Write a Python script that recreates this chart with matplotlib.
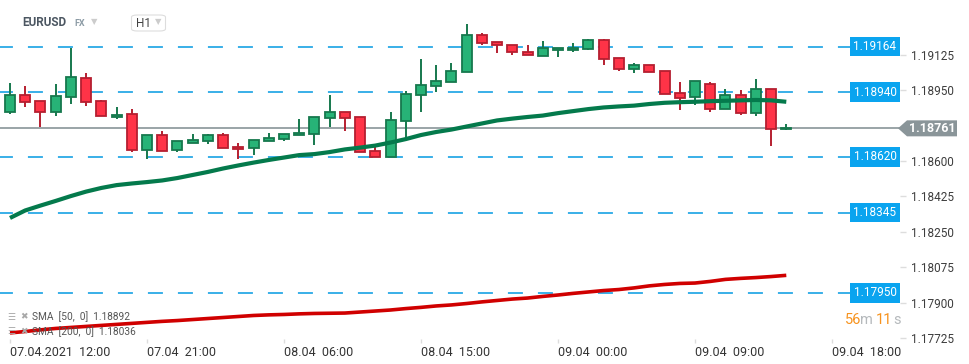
import numpy as np
import matplotlib
matplotlib.use("Agg")
import matplotlib.pyplot as plt
from matplotlib.patches import Polygon, FancyBboxPatch
from matplotlib.transforms import IdentityTransform

plt.rcParams['font.family'] = ['Roboto', 'DejaVu Sans']
plt.rcParams['lines.scale_dashes'] = False

# EURUSD H1 candles, 07.04 12:00 -> 09.04 15:00
opens = [1.18840, 1.18925, 1.18894, 1.18843, 1.18914, 1.19008, 1.18894, 1.18815, 1.18830, 1.18653,
         1.18727, 1.18653, 1.18687, 1.18697, 1.18727, 1.18667, 1.18662, 1.18697, 1.18707, 1.18727,
         1.18731, 1.18810, 1.18840, 1.18815, 1.18648, 1.18618, 1.18796, 1.18924, 1.18968, 1.18988,
         1.19037, 1.19220, 1.19185, 1.19170, 1.19136, 1.19116, 1.19146, 1.19146, 1.19151, 1.19195,
         1.19106, 1.19052, 1.19072, 1.19042, 1.18934, 1.18914, 1.18978, 1.18855, 1.18924, 1.18835,
         1.18953, 1.18756]
closes = [1.18925, 1.18889, 1.18843, 1.18919, 1.19012, 1.18889, 1.18820, 1.18825, 1.18653, 1.18727,
          1.18648, 1.18697, 1.18702, 1.18727, 1.18662, 1.18657, 1.18702, 1.18712, 1.18731, 1.18738,
          1.18815, 1.18840, 1.18810, 1.18643, 1.18618, 1.18800, 1.18929, 1.18973, 1.18993, 1.19042,
          1.19220, 1.19180, 1.19170, 1.19136, 1.19121, 1.19155, 1.19155, 1.19155, 1.19195, 1.19101,
          1.19052, 1.19072, 1.19037, 1.18929, 1.18909, 1.18993, 1.18855, 1.18924, 1.18835, 1.18953,
          1.18756, 1.18761]
highs = [1.18984, 1.18970, 1.18895, 1.18979, 1.19157, 1.19032, 1.18901, 1.18865, 1.18855, 1.18727,
         1.18748, 1.18697, 1.18733, 1.18733, 1.18738, 1.18687, 1.18702, 1.18738, 1.18731, 1.18805,
         1.18815, 1.18924, 1.18840, 1.18815, 1.18672, 1.18840, 1.18943, 1.19101, 1.19072, 1.19081,
         1.19274, 1.19229, 1.19185, 1.19170, 1.19170, 1.19190, 1.19155, 1.19180, 1.19200, 1.19200,
         1.19106, 1.19081, 1.19072, 1.19042, 1.18988, 1.18993, 1.18988, 1.18953, 1.18948, 1.19003,
         1.18953, 1.18781]
lows = [1.18832, 1.18868, 1.18769, 1.18823, 1.18882, 1.18872, 1.18820, 1.18805, 1.18646, 1.18608,
        1.18648, 1.18643, 1.18687, 1.18682, 1.18662, 1.18608, 1.18628, 1.18697, 1.18697, 1.18727,
        1.18677, 1.18769, 1.18749, 1.18643, 1.18618, 1.18618, 1.18712, 1.18840, 1.18938, 1.18988,
        1.19037, 1.19173, 1.19134, 1.19121, 1.19121, 1.19116, 1.19111, 1.19136, 1.19146, 1.19072,
        1.19042, 1.19032, 1.19037, 1.18929, 1.18850, 1.18874, 1.18840, 1.18855, 1.18825, 1.18820,
        1.18672, 1.18751]

sma50 = [1.18319, 1.18356, 1.18380, 1.18403, 1.18427, 1.18449, 1.18467, 1.18481, 1.18489, 1.18496,
         1.18504, 1.18516, 1.18531, 1.18546, 1.18563, 1.18578, 1.18592, 1.18605, 1.18617, 1.18629,
         1.18634, 1.18644, 1.18657, 1.18666, 1.18676, 1.18691, 1.18708, 1.18728, 1.18743, 1.18755,
         1.18770, 1.18785, 1.18800, 1.18809, 1.18817, 1.18824, 1.18836, 1.18846, 1.18856, 1.18864,
         1.18869, 1.18873, 1.18881, 1.18887, 1.18890, 1.18892, 1.18895, 1.18897, 1.18899, 1.18901,
         1.18899, 1.18892]
sma200 = [1.17752, 1.17759, 1.17767, 1.17774, 1.17779, 1.17784, 1.17789, 1.17794, 1.17799, 1.17804,
          1.17809, 1.17813, 1.17818, 1.17823, 1.17828, 1.17833, 1.17838, 1.17841, 1.17843, 1.17846,
          1.17848, 1.17849, 1.17850, 1.17855, 1.17860, 1.17865, 1.17872, 1.17878, 1.17885, 1.17890,
          1.17897, 1.17905, 1.17912, 1.17919, 1.17924, 1.17932, 1.17939, 1.17947, 1.17954, 1.17961,
          1.17966, 1.17974, 1.17984, 1.17991, 1.17996, 1.17998, 1.18006, 1.18016, 1.18021, 1.18025,
          1.18030, 1.18036]

levels = [1.19164, 1.18940, 1.18620, 1.18345, 1.17950]
last_price = 1.18761
# 1.18775 sits behind the last-price tag in the reference, so it is left out
y_ticks = [1.17725, 1.17900, 1.18075, 1.18250, 1.18425, 1.18600, 1.18950, 1.19125]
time_labels = ["07.04.2021  12:00", "07.04  21:00", "08.04  06:00", "08.04  15:00",
               "09.04  00:00", "09.04  09:00", "09.04  18:00"]
time_idx = [0, 9, 18, 27, 36, 45, 54]

GREEN, GREEN_EDGE = "#27b377", "#16784d"
RED, RED_EDGE = "#ff3347", "#b51f30"

W, H = 970, 364
fig = plt.figure(figsize=(W / 100, H / 100), dpi=100)
fig.patch.set_facecolor("white")
ax = fig.add_axes([0, (H - 339) / H, 900 / W, 339 / H])
ax.set_xlim(-0.657, 58.47)
ax.set_ylim(1.17722, 1.19394)
for s in ax.spines.values():
    s.set_visible(False)

# dashed levels
for lv in levels:
    ax.axhline(lv, xmin=0, xmax=853 / 900, color="#2aa9e6", lw=1.3,
               linestyle=(1.5, (10.8, 10.8)), zorder=1)
    ax.annotate(f"{lv:.5f}", xy=(1, lv), xycoords=("axes fraction", "data"),
                xytext=(-2.6, 0), textcoords="offset points", ha="right", va="center",
                color="white", fontsize=8.5, annotation_clip=False, zorder=6,
                bbox=dict(boxstyle="square,pad=0.28", fc="#0aa4ef", ec="none"))

# current price line
ax.axhline(last_price, color="#7f8b8f", lw=1.1, zorder=2)

# candles
x = np.arange(len(opens))
o = np.array(opens); c = np.array(closes)
up = c >= o
bottoms = np.minimum(o, c)
heights = np.maximum(np.abs(c - o), 0.00004)
wick_cols = [GREEN_EDGE if u else RED_EDGE for u in up]
ax.vlines(x, lows, highs, colors=wick_cols, lw=1.4, zorder=3)
ax.bar(x, heights, bottom=bottoms, width=0.66,
       color=[GREEN if u else RED for u in up],
       edgecolor=wick_cols, linewidth=1.3, zorder=4)

# moving averages
ax.plot(x, sma50, color="#047a4c", lw=3.0, solid_capstyle="butt", zorder=5)
ax.plot(x, sma200, color="#d00000", lw=2.6, solid_capstyle="butt", zorder=5)

# axes ticks
ax.yaxis.tick_right()
ax.set_yticks(y_ticks)
ax.set_yticklabels([f"{v:.5f}" for v in y_ticks])
ax.tick_params(axis="y", length=4, width=1, color="#dddddd", pad=4,
               labelsize=8.5, labelcolor="#3d3d3d")
ax.set_xticks(time_idx)
ax.set_xticklabels(time_labels)
for lab in ax.get_xticklabels():
    lab.set_horizontalalignment("left")
ax.tick_params(axis="x", length=3, width=1, color="#dddddd", pad=2,
               labelsize=9, labelcolor="#333333")

# current price tag with arrow
fig.canvas.draw()
x0, y0 = ax.transData.transform((ax.get_xlim()[1], last_price))
tag = Polygon([(x0 - 2, y0), (x0 + 7, y0 + 8), (x0 + 57, y0 + 8),
               (x0 + 57, y0 - 8), (x0 + 7, y0 - 8)], closed=True,
              transform=IdentityTransform(), fc="#8a9599", ec="none", zorder=10)
fig.add_artist(tag)
fig.text((x0 + 32) / W, y0 / H, f"{last_price:.5f}", ha="center", va="center",
         color="white", fontsize=9, fontweight="bold", zorder=11)

# header
fig.text(22 / W, 1 - 23 / H, "EURUSD", fontsize=8.5, fontweight="bold",
         color="#4b5661", va="center")
fig.text(74 / W, 1 - 23.5 / H, "FX", fontsize=6.5, fontweight="bold",
         color="#8d9ca6", va="center")
fig.text(94 / W, 1 - 21.5 / H, "▼", fontsize=6, color="#cccccc", va="center", ha="center",
         family=["DejaVu Sans"])
fig.add_artist(FancyBboxPatch((131.5 / W, 1 - 31 / H), 34 / W, 16 / H,
                              boxstyle="round,pad=0,rounding_size=0.006",
                              transform=fig.transFigure, fc="white", ec="#dddddd", lw=0.8))
fig.text(136 / W, 1 - 23.5 / H, "H1", fontsize=8.5, color="#444444", va="center")
fig.text(158 / W, 1 - 22 / H, "▼", fontsize=6, color="#cccccc", va="center", ha="center",
         family=["DejaVu Sans"])

# indicator legend
for yy, txt in [(317, "SMA  [50,  0]  1.18892"), (332, "SMA  [200,  0]  1.18036")]:
    fig.text(7 / W, 1 - yy / H, "☰", fontsize=6.5, color="#a8a8a8", va="center",
             family=["DejaVu Sans"])
    fig.text(20 / W, 1 - yy / H, "✖", fontsize=6.5, color="#a8a8a8", va="center",
             family=["DejaVu Sans"])
    fig.text(32 / W, 1 - yy / H, txt, fontsize=7.3, color="#555555", va="center")

# candle timer
fig.text(845 / W, 1 - 320 / H, "56", fontsize=10.5, color="#f7931e", va="center")
fig.text(860 / W, 1 - 320 / H, "m", fontsize=10.5, color="#b5b9bc", va="center")
fig.text(876 / W, 1 - 320 / H, "11", fontsize=10.5, color="#f7931e", va="center")
fig.text(893 / W, 1 - 320 / H, "s", fontsize=10.5, color="#b5b9bc", va="center")

fig.savefig("out.png", dpi=100)
